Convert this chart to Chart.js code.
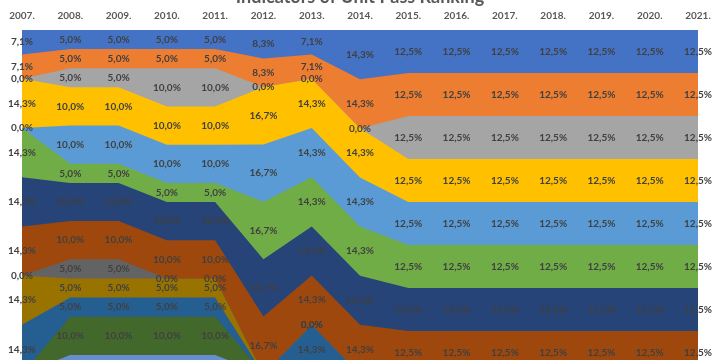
<!DOCTYPE html>
<html>
<head>
<meta charset="utf-8">
<script src="https://cdn.jsdelivr.net/npm/chart.js@4/dist/chart.umd.min.js"></script>
<style>
html,body{margin:0;padding:0;background:#fff;width:720px;height:360px;overflow:hidden;}
#wrap{position:absolute;left:0;top:-30px;width:720px;height:420px;}
</style>
</head>
<body>
<div id="wrap"><canvas id="c" width="720" height="420"></canvas></div>
<script>
const years = ['2007.','2008.','2009.','2010.','2011.','2012.','2013.','2014.','2015.','2016.','2017.','2018.','2019.','2020.','2021.'];
const s1  = [7.1, 5, 5, 5, 5, 8.3, 7.1, 14.3, 12.5, 12.5, 12.5, 12.5, 12.5, 12.5, 12.5];
const s2  = [7.1, 5, 5, 5, 5, 8.3, 7.1, 14.3, 12.5, 12.5, 12.5, 12.5, 12.5, 12.5, 12.5];
const s3  = [0, 5, 5, 10, 10, 0, 0, 0, 12.5, 12.5, 12.5, 12.5, 12.5, 12.5, 12.5];
const s4  = [14.3, 10, 10, 10, 10, 16.7, 14.3, 14.3, 12.5, 12.5, 12.5, 12.5, 12.5, 12.5, 12.5];
const s5  = [0, 10, 10, 10, 10, 16.7, 14.3, 14.3, 12.5, 12.5, 12.5, 12.5, 12.5, 12.5, 12.5];
const s6  = [14.3, 5, 5, 5, 5, 16.7, 14.3, 14.3, 12.5, 12.5, 12.5, 12.5, 12.5, 12.5, 12.5];
const s7  = [14.3, 10, 10, 10, 10, 16.7, 14.3, 14.3, 12.5, 12.5, 12.5, 12.5, 12.5, 12.5, 12.5];
const s8  = [14.3, 10, 10, 10, 10, 16.7, 14.3, 14.3, 12.5, 12.5, 12.5, 12.5, 12.5, 12.5, 12.5];
const s9  = [0, 5, 5, 0, 0, 0, 0, 0, 0, 0, 0, 0, 0, 0, 0];
const s10 = [14.3, 5, 5, 5, 5, 0, 0, 0, 0, 0, 0, 0, 0, 0, 0];
const s11 = [14.3, 5, 5, 5, 5, 0, 14.3, 0, 0, 0, 0, 0, 0, 0, 0];
const s12 = [0, 10, 10, 10, 10, 0, 0, 0, 0, 0, 0, 0, 0, 0, 0];
const s13 = [0, 5, 5, 5, 5, 0, 0, 0, 0, 0, 0, 0, 0, 0, 0];

const seriesList = [s1,s2,s3,s4,s5,s6,s7,s8,s9,s10,s11,s12,s13];
const colors = ['#4472C4','#ED7D31','#A5A5A5','#FFC000','#5B9BD5','#70AD47','#264478','#9E480E','#636363','#997300','#255E91','#43682B','#698ED0'];

// 100% stacking: share of each value in its year's total
const totals = years.map((_, j) => seriesList.reduce((a, s) => a + s[j], 0));
const datasets = seriesList.map((s, i) => ({
  label: 'Series ' + (i + 1),
  raw: s,
  data: s.map((v, j) => v / totals[j] * 100),
  backgroundColor: colors[i],
  borderColor: colors[i],
  borderWidth: 0,
  pointRadius: 0,
  tension: 0,
  fill: 'origin'
}));

const labelPlugin = {
  id: 'bandLabels',
  afterDatasetsDraw(chart) {
    const ctx = chart.ctx;
    const yScale = chart.scales.y;
    ctx.save();
    ctx.font = 'bold 10px Lato';
    ctx.fillStyle = '#404040';
    ctx.textAlign = 'center';
    ctx.textBaseline = 'middle';
    chart.data.datasets.forEach((ds, i) => {
      const meta = chart.getDatasetMeta(i);
      const prev = i > 0 ? chart.getDatasetMeta(i - 1) : null;
      meta.data.forEach((pt, j) => {
        const top = prev ? prev.data[j].y : yScale.getPixelForValue(0);
        const mid = (top + pt.y) / 2;
        ctx.fillText(ds.raw[j].toFixed(1).replace('.', ',') + '%', pt.x, mid);
      });
    });
    ctx.restore();
  }
};

new Chart(document.getElementById('c'), {
  type: 'line',
  data: { labels: years, datasets },
  options: {
    responsive: false,
    animation: false,
    layout: { padding: { top: 0, bottom: 16, left: 22, right: 22 } },
    plugins: {
      legend: { display: false },
      tooltip: { enabled: false },
      title: {
        display: true,
        text: 'Indicators of Unit Pass Ranking',
        color: '#595959',
        font: { family: 'Lato', size: 18, weight: 'bold' },
        padding: { top: 16, bottom: 4 }
      }
    },
    scales: {
      x: {
        position: 'top',
        offset: false,
        grid: { display: false, drawTicks: false },
        border: { display: false },
        ticks: { color: '#595959', font: { family: 'Lato', size: 10, weight: 'bold' }, padding: 8, maxRotation: 0, autoSkip: false },
        afterFit(scale) { scale.height = 18.4; }
      },
      y: {
        display: false,
        stacked: true,
        reverse: true,
        min: 0,
        max: 100
      }
    }
  },
  plugins: [labelPlugin]
});
</script>
</body>
</html>
